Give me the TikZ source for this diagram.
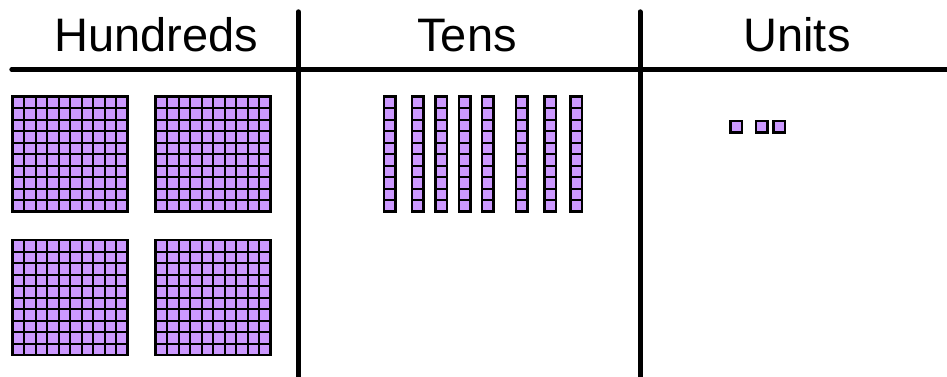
\documentclass[tikz,border=0pt]{standalone}
\usepackage{fontspec}
\setmainfont{Liberation Sans}
\definecolor{cellfill}{RGB}{204,153,255}
\newcommand{\cellsz}{11.5}
\newcommand{\baseblock}[4]{% lower left x, lower left y, columns, rows
  \fill[cellfill] (#1,#2) rectangle ++(#3*\cellsz,#4*\cellsz);
  \foreach \i in {0,...,#3}
    \draw[line width=2pt] (#1+\i*\cellsz,#2) -- ++(0,#4*\cellsz);
  \foreach \j in {0,...,#4}
    \draw[line width=2pt] (#1,#2+\j*\cellsz) -- ++(#3*\cellsz,0);
  \draw[line width=2.5pt] (#1,#2) rectangle ++(#3*\cellsz,#4*\cellsz);
}

\begin{document}
\begin{tikzpicture}[x=1pt,y=1pt,
  heading/.style={anchor=base,inner sep=0pt,font=\fontsize{47}{50}\selectfont},
  divider/.style={line width=5pt,line cap=round}]
\useasboundingbox (0,0) rectangle (947,376);
\node[heading] (H) at (156.5,324.3) {Hundreds};
\node[heading] (T) at (467,324.3) {Tens};
\node[heading] (U) at (797,324.3) {Units};
\coordinate (rowL) at (11.8,306.5);
\coordinate (rowR) at (950,306.5);
\coordinate (colAtop) at (298.3,364.2);
\coordinate (colAbot) at (298.3,-5);
\coordinate (colBtop) at (640,364.2);
\coordinate (colBbot) at (640,-5);
\draw[divider] (rowL)--(rowR);
\draw[divider] (colAtop)--(colAbot);
\draw[divider] (colBtop)--(colBbot);
% hundreds
\foreach \x in {12.5,155.5}
  \foreach \y in {164.3,21}
    \baseblock{\x}{\y}{10}{10};
% tens
\foreach \x in {384,412,435.5,459,482,516,544.5,570.5}
  \baseblock{\x}{164.3}{1}{10};
% units
\foreach \x in {730.3,756,773.3}
  \baseblock{\x}{243.6}{1}{1};
\end{tikzpicture}
\end{document}
